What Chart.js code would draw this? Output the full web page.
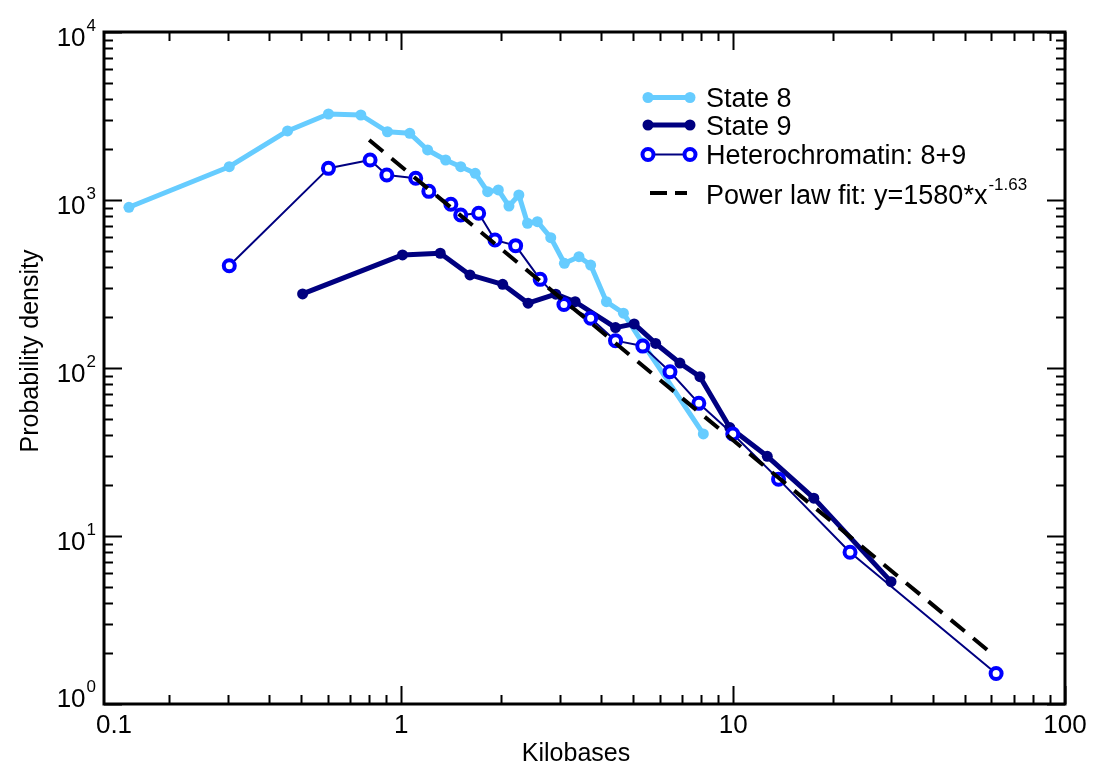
<!DOCTYPE html>
<html>
<head>
<meta charset="utf-8">
<script src="https://cdn.jsdelivr.net/npm/chart.js@4.4.1/dist/chart.umd.min.js"></script>
<style>
  html, body { margin: 0; padding: 0; background: #fff; }
  #wrap { width: 1097px; height: 769px; }
</style>
</head>
<body>
<div id="wrap"><canvas id="c" width="1097" height="769"></canvas></div>
<script>
// ---- Data ----
const state8X = [0.151, 0.303, 0.454, 0.603, 0.755, 0.908, 1.06, 1.20, 1.36, 1.51, 1.67, 1.82, 1.96, 2.11, 2.26, 2.40, 2.57, 2.82, 3.10, 3.43, 3.72, 4.15, 4.67, 5.33, 8.13];
const state8Y = [905, 1578, 2576, 3250, 3206, 2548, 2494, 1985, 1730, 1578, 1442, 1120, 1148, 921, 1071, 727, 743, 597, 420, 460, 410, 248, 212, 141, 40.5];

const state9X = [0.504, 1.008, 1.31, 1.61, 2.02, 2.41, 2.92, 3.34, 4.42, 5.03, 5.84, 6.91, 7.94, 9.77, 12.67, 17.5, 29.9];
const state9Y = [276, 471, 482, 358, 315, 243, 275, 248, 174, 183, 140, 107, 88.8, 44.2, 29.8, 16.8, 5.35];

const heteroX = [0.303, 0.603, 0.805, 0.904, 1.105, 1.21, 1.41, 1.51, 1.71, 1.915, 2.21, 2.62, 3.09, 3.72, 4.42, 5.34, 6.45, 7.88, 9.97, 13.7, 22.5, 62.0];
const heteroY = [406, 1543, 1730, 1409, 1346, 1126, 943, 814, 834, 578, 535, 337, 239, 198, 145.5, 135, 95, 61.6, 40.5, 21.8, 8.0, 1.52];

const fitX = [0.80, 61.0];
const fitY = [2275, 1.95];

const seriesLabels = ['State 8', 'State 9', 'Heterochromatin: 8+9', 'Power law fit: y=1580*x'];
const fitExponentLabel = '-1.63';

const xTickValues = [0.1, 1, 10, 100];
const xTickLabels = ['0.1', '1', '10', '100'];
const yTickValues = [1, 10, 100, 1000, 10000];
const yTickExponents = ['0', '1', '2', '3', '4'];

const xAxisTitle = 'Kilobases';
const yAxisTitle = 'Probability density';

// ---- Helpers ----
const zip = (xs, ys) => xs.map((x, i) => ({ x: x, y: ys[i] }));
const FONT = '"Liberation Sans", Arial, Helvetica, sans-serif';
const C_STATE8 = '#66ccff';
const C_STATE9 = '#000080';
const C_HETMARK = '#0000ff';
const C_HETLINE = '#000080';

const decorPlugin = {
  id: 'decor',
  afterDraw(chart) {
    const ctx = chart.ctx;
    const a = chart.chartArea;
    const xs = chart.scales.x, ys = chart.scales.y;
    ctx.save();

    // minor / major ticks, inward, on all four sides
    ctx.strokeStyle = '#000';
    ctx.lineWidth = 2;
    ctx.beginPath();
    for (let k = -1; k <= 2; k++) {
      for (let m = 1; m <= 9; m++) {
        const v = m * Math.pow(10, k);
        if (v < xs.min * 0.999 || v > xs.max * 1.001) continue;
        const px = Math.round(xs.getPixelForValue(v)) + 0.5;
        const len = m === 1 ? 18 : 9;
        ctx.moveTo(px, a.bottom); ctx.lineTo(px, a.bottom - len);
        ctx.moveTo(px, a.top); ctx.lineTo(px, a.top + len);
      }
    }
    for (let k = 0; k <= 4; k++) {
      for (let m = 1; m <= 9; m++) {
        const v = m * Math.pow(10, k);
        if (v < ys.min * 0.999 || v > ys.max * 1.001) continue;
        const py = Math.round(ys.getPixelForValue(v)) + 0.5;
        const len = m === 1 ? 18 : 9;
        ctx.moveTo(a.left, py); ctx.lineTo(a.left + len, py);
        ctx.moveTo(a.right, py); ctx.lineTo(a.right - len, py);
      }
    }
    ctx.stroke();

    // frame
    ctx.lineWidth = 3;
    ctx.strokeRect(a.left, a.top, a.right - a.left, a.bottom - a.top);

    // x tick labels
    ctx.fillStyle = '#000';
    ctx.font = '26px ' + FONT;
    ctx.textAlign = 'center';
    ctx.textBaseline = 'alphabetic';
    xTickValues.forEach((v, i) => {
      let px = xs.getPixelForValue(v);
      if (px < a.left + 10) px = a.left + 10;
      ctx.fillText(xTickLabels[i], px, a.bottom + 29);
    });

    // y tick labels with superscripts (lowest one raised to clear the x labels)
    yTickValues.forEach((v, i) => {
      let py = ys.getPixelForValue(v);
      if (py > a.bottom - 5) py -= 11;
      ctx.font = '17px ' + FONT;
      const ws = ctx.measureText(yTickExponents[i]).width;
      ctx.font = '26px ' + FONT;
      const wb = ctx.measureText('10').width;
      const right = a.left - 8;
      ctx.textAlign = 'left';
      ctx.fillText('10', right - ws - wb - 1, py + 14);
      ctx.font = '17px ' + FONT;
      ctx.fillText(yTickExponents[i], right - ws, py - 1);
    });

    // axis titles
    ctx.font = '25px ' + FONT;
    ctx.textAlign = 'center';
    ctx.textBaseline = 'alphabetic';
    ctx.fillText(xAxisTitle, 576, 761);
    ctx.save();
    ctx.translate(31, 351);
    ctx.rotate(-Math.PI / 2);
    ctx.textBaseline = 'middle';
    ctx.fillText(yAxisTitle, 0, 0);
    ctx.restore();

    // legend
    const lx0 = 648, lx1 = 690, tx = 706;
    // State 8
    let yy = 97.5;
    ctx.strokeStyle = C_STATE8; ctx.fillStyle = C_STATE8; ctx.lineWidth = 5;
    ctx.beginPath(); ctx.moveTo(lx0, yy); ctx.lineTo(lx1, yy); ctx.stroke();
    [lx0, lx1].forEach(x => { ctx.beginPath(); ctx.arc(x, yy, 5.5, 0, Math.PI * 2); ctx.fill(); });
    // State 9
    yy = 125;
    ctx.strokeStyle = C_STATE9; ctx.fillStyle = C_STATE9;
    ctx.beginPath(); ctx.moveTo(lx0, yy); ctx.lineTo(lx1, yy); ctx.stroke();
    [lx0, lx1].forEach(x => { ctx.beginPath(); ctx.arc(x, yy, 5.5, 0, Math.PI * 2); ctx.fill(); });
    // Hetero
    yy = 154.5;
    ctx.strokeStyle = C_HETLINE; ctx.lineWidth = 2;
    ctx.beginPath(); ctx.moveTo(lx0, yy); ctx.lineTo(lx1, yy); ctx.stroke();
    ctx.strokeStyle = C_HETMARK; ctx.fillStyle = '#fff'; ctx.lineWidth = 4;
    [lx0, lx1].forEach(x => { ctx.beginPath(); ctx.arc(x, yy, 5.5, 0, Math.PI * 2); ctx.fill(); ctx.stroke(); });
    // Fit
    yy = 193;
    ctx.strokeStyle = '#000'; ctx.lineWidth = 4; ctx.setLineDash([17, 8]);
    ctx.beginPath(); ctx.moveTo(650, yy); ctx.lineTo(687, yy); ctx.stroke();
    ctx.setLineDash([]);

    ctx.fillStyle = '#000';
    ctx.font = '27px ' + FONT;
    ctx.textAlign = 'left';
    ctx.textBaseline = 'alphabetic';
    ctx.fillText(seriesLabels[0], tx, 107);
    ctx.fillText(seriesLabels[1], tx, 134.5);
    ctx.fillText(seriesLabels[2], tx, 164);
    ctx.fillText(seriesLabels[3], tx, 204);
    const wFit = ctx.measureText(seriesLabels[3]).width;
    ctx.font = '17px ' + FONT;
    ctx.fillText(fitExponentLabel, tx + wFit + 1, 189.5);

    ctx.restore();
  }
};

new Chart(document.getElementById('c'), {
  type: 'scatter',
  data: {
    datasets: [
      {
        label: seriesLabels[3],
        data: zip(fitX, fitY),
        showLine: true,
        borderColor: '#000',
        borderWidth: 4,
        borderDash: [18, 11],
        pointRadius: 0,
        order: 0
      },
      {
        label: seriesLabels[2],
        data: zip(heteroX, heteroY),
        showLine: true,
        borderColor: C_HETLINE,
        borderWidth: 2,
        pointRadius: 5.5,
        pointBorderWidth: 4,
        pointBorderColor: C_HETMARK,
        pointBackgroundColor: '#ffffff',
        order: 1
      },
      {
        label: seriesLabels[1],
        data: zip(state9X, state9Y),
        showLine: true,
        borderColor: C_STATE9,
        borderWidth: 5,
        pointRadius: 5.5,
        pointBorderWidth: 0,
        pointBackgroundColor: C_STATE9,
        order: 2
      },
      {
        label: seriesLabels[0],
        data: zip(state8X, state8Y),
        showLine: true,
        borderColor: C_STATE8,
        borderWidth: 5,
        pointRadius: 5.5,
        pointBorderWidth: 0,
        pointBackgroundColor: C_STATE8,
        order: 3
      }
    ]
  },
  options: {
    responsive: false,
    animation: false,
    devicePixelRatio: 1,
    events: [],
    layout: { padding: { left: 104, right: 32, top: 32, bottom: 65 } },
    plugins: { legend: { display: false }, tooltip: { enabled: false } },
    scales: {
      x: { type: 'logarithmic', min: Math.pow(10, (104 - 401.5) / 332), max: 100, display: false },
      y: { type: 'logarithmic', min: 1, max: 10000, display: false }
    },
    elements: { line: { tension: 0, borderCapStyle: 'butt', borderJoinStyle: 'round' } }
  },
  plugins: [decorPlugin]
});
</script>
</body>
</html>
